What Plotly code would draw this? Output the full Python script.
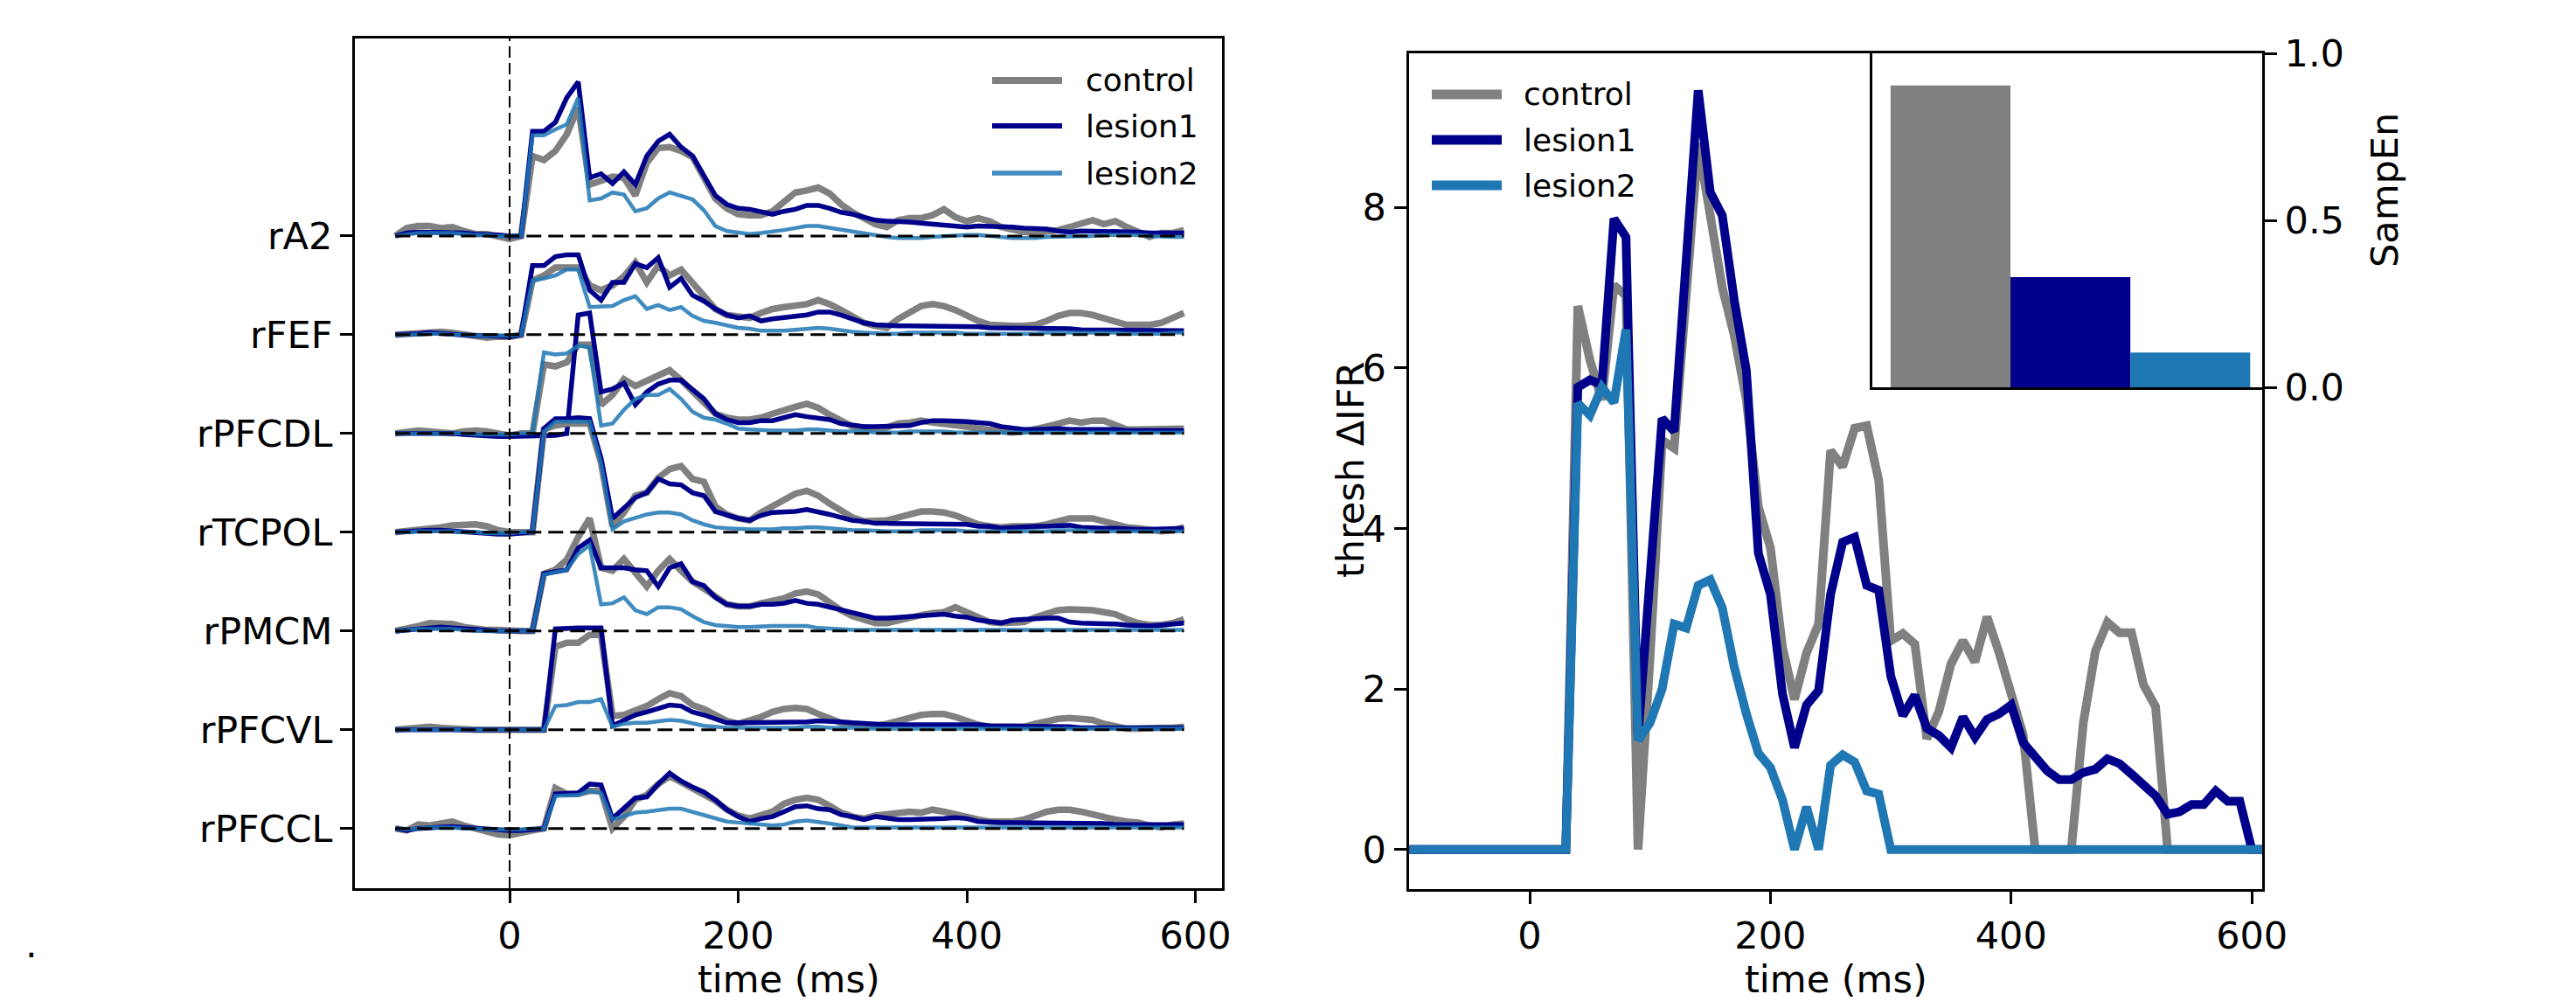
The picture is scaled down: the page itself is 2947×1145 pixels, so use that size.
import plotly.graph_objects as go

# ---------------- data ----------------
time_left = list(range(-100, 600, 10))      # 70 samples
time_right = list(range(-100, 620, 10))     # 72 samples

channels = ["rA2", "rFEF", "rPFCDL", "rTCPOL", "rPMCM", "rPFCVL", "rPFCCL"]
channel_offsets = [6, 5, 4, 3, 2, 1, 0]

rA2_control = [0.0, 0.08, 0.1, 0.1, 0.08, 0.09, 0.05, 0.02, 0.02, 0.0, -0.03, 0.0,
               0.81, 0.77, 0.86, 1.03, 1.3, 0.52, 0.56, 0.6, 0.59, 0.41,
               0.74, 0.89, 0.9, 0.86, 0.8, 0.59, 0.38, 0.28, 0.22, 0.21,
               0.21, 0.25, 0.35, 0.44, 0.46, 0.49, 0.43, 0.32, 0.24, 0.18,
               0.12, 0.09, 0.16, 0.18, 0.18, 0.21, 0.27, 0.19, 0.15, 0.18,
               0.15, 0.09, 0.06, 0.04, 0.03, 0.04, 0.06, 0.09, 0.12, 0.16,
               0.12, 0.15, 0.09, 0.04, -0.01, 0.03, 0.03, 0.06]
rA2_lesion1 = [0.0, 0.03, 0.04, 0.04, 0.04, 0.04, 0.03, 0.02, 0.02, 0.01, 0.0, 0.0,
               1.06, 1.06, 1.15, 1.4, 1.56, 0.59, 0.63, 0.53, 0.65, 0.52,
               0.81, 0.96, 1.03, 0.9, 0.81, 0.62, 0.41, 0.32, 0.28, 0.27,
               0.24, 0.22, 0.25, 0.27, 0.31, 0.31, 0.28, 0.24, 0.22, 0.19,
               0.16, 0.15, 0.15, 0.14, 0.13, 0.12, 0.12, 0.1, 0.09, 0.1,
               0.1, 0.09, 0.09, 0.08, 0.08, 0.07, 0.05, 0.04, 0.05, 0.05,
               0.05, 0.05, 0.05, 0.04, 0.03, 0.03, 0.03, 0.03]
rA2_lesion2 = [0.0, 0.02, 0.03, 0.03, 0.03, 0.03, 0.02, 0.01, 0.01, 0.0, 0.0, 0.0,
               1.02, 1.02, 1.08, 1.13, 1.4, 0.36, 0.38, 0.44, 0.42, 0.25,
               0.28, 0.38, 0.44, 0.41, 0.37, 0.26, 0.1, 0.05, 0.03, 0.02,
               0.03, 0.04, 0.06, 0.08, 0.1, 0.1, 0.08, 0.07, 0.04, 0.02,
               0.0, -0.01, -0.02, -0.02, -0.02, -0.01, 0.0, 0.01, 0.01, 0.01,
               0.0, -0.01, -0.02, -0.02, -0.02, -0.01, -0.01, 0.0, 0.0, 0.0,
               0.01, 0.01, 0.01, 0.01, 0.0, -0.01, -0.01, -0.01]

rFEF_control = [0.0, 0.01, 0.02, 0.03, 0.03, 0.02, 0.0, -0.02, -0.03, -0.02, -0.02, 0.0,
                0.55, 0.6, 0.68, 0.68, 0.68, 0.5, 0.45, 0.5, 0.59, 0.73,
                0.53, 0.7, 0.6, 0.66, 0.53, 0.38, 0.26, 0.2, 0.19, 0.17,
                0.22, 0.26, 0.28, 0.29, 0.31, 0.35, 0.31, 0.25, 0.19, 0.12,
                0.09, 0.07, 0.16, 0.22, 0.29, 0.31, 0.29, 0.25, 0.19, 0.14,
                0.1, 0.09, 0.09, 0.09, 0.1, 0.14, 0.19, 0.22, 0.22, 0.2,
                0.17, 0.13, 0.1, 0.1, 0.1, 0.12, 0.17, 0.22]
rFEF_lesion1 = [0.0, 0.0, 0.01, 0.02, 0.01, 0.0, 0.0, -0.01, -0.01, -0.02, -0.02, 0.0,
                0.7, 0.7, 0.79, 0.81, 0.81, 0.45, 0.35, 0.53, 0.53, 0.72,
                0.68, 0.78, 0.48, 0.57, 0.4, 0.34, 0.26, 0.2, 0.17, 0.19,
                0.14, 0.16, 0.17, 0.19, 0.2, 0.23, 0.23, 0.2, 0.16, 0.12,
                0.1, 0.09, 0.09, 0.09, 0.09, 0.09, 0.08, 0.08, 0.08, 0.08,
                0.07, 0.07, 0.07, 0.07, 0.07, 0.06, 0.06, 0.06, 0.05, 0.05,
                0.05, 0.05, 0.05, 0.05, 0.04, 0.04, 0.04, 0.04]
rFEF_lesion2 = [0.0, 0.0, 0.0, 0.01, 0.01, 0.0, 0.0, -0.01, -0.01, -0.01, -0.01, 0.0,
                0.55, 0.57, 0.6, 0.66, 0.66, 0.28, 0.28, 0.29, 0.35, 0.39,
                0.26, 0.3, 0.25, 0.28, 0.19, 0.14, 0.12, 0.09, 0.07, 0.06,
                0.04, 0.04, 0.04, 0.05, 0.06, 0.07, 0.06, 0.04, 0.03, 0.02,
                0.01, 0.01, 0.01, 0.02, 0.02, 0.02, 0.02, 0.02, 0.01, 0.01,
                0.01, 0.01, 0.01, 0.01, 0.01, 0.02, 0.02, 0.02, 0.02, 0.02,
                0.02, 0.02, 0.01, 0.01, 0.01, 0.01, 0.02, 0.02]

rPFCDL_control = [0.0, 0.01, 0.03, 0.02, 0.01, 0.0, 0.02, 0.03, 0.02, 0.0, -0.02, 0.0,
                  0.0, 0.7, 0.68, 0.72, 0.9, 0.9, 0.29, 0.39, 0.55, 0.48,
                  0.53, 0.58, 0.64, 0.54, 0.42, 0.32, 0.2, 0.16, 0.14, 0.14,
                  0.16, 0.2, 0.24, 0.27, 0.3, 0.26, 0.19, 0.13, 0.07, 0.06,
                  0.05, 0.06, 0.1, 0.11, 0.13, 0.11, 0.1, 0.08, 0.07, 0.05,
                  0.04, 0.02, 0.01, 0.02, 0.04, 0.07, 0.1, 0.13, 0.11, 0.13,
                  0.13, 0.08, 0.04, 0.04, 0.04, 0.04, 0.04, 0.05]
rPFCDL_lesion1 = [0.0, 0.0, 0.01, 0.01, 0.0, 0.0, -0.01, -0.02, -0.02, -0.03, -0.03, -0.03,
                  -0.03, -0.02, -0.02, 0.0, 1.2, 1.22, 0.42, 0.45, 0.51, 0.29,
                  0.42, 0.5, 0.54, 0.54, 0.45, 0.35, 0.2, 0.14, 0.11, 0.11,
                  0.13, 0.13, 0.16, 0.19, 0.17, 0.16, 0.14, 0.1, 0.08, 0.07,
                  0.07, 0.07, 0.07, 0.08, 0.11, 0.13, 0.13, 0.13, 0.12, 0.11,
                  0.1, 0.07, 0.05, 0.04, 0.04, 0.05, 0.05, 0.04, 0.04, 0.05,
                  0.05, 0.04, 0.03, 0.03, 0.03, 0.03, 0.03, 0.03]
rPFCDL_lesion2 = [0.0, 0.0, 0.0, 0.0, 0.0, 0.0, 0.0, -0.01, -0.01, -0.01, -0.01, 0.0,
                  0.0, 0.82, 0.8, 0.81, 0.89, 0.87, 0.08, 0.1, 0.24, 0.35,
                  0.39, 0.39, 0.45, 0.35, 0.22, 0.16, 0.14, 0.1, 0.05, 0.04,
                  0.03, 0.03, 0.03, 0.03, 0.04, 0.04, 0.03, 0.02, 0.02, 0.02,
                  0.01, 0.01, 0.01, 0.02, 0.02, 0.02, 0.02, 0.01, 0.01, 0.01,
                  0.01, 0.01, 0.01, 0.01, 0.01, 0.01, 0.01, 0.01, 0.01, 0.01,
                  0.01, 0.01, 0.01, 0.01, 0.01, 0.01, 0.01, 0.01]

rTCPOL_control = [0.0, 0.01, 0.02, 0.03, 0.05, 0.07, 0.08, 0.08, 0.06, 0.02, 0.0, 0.0,
                  0.0, 1.04, 1.08, 1.1, 1.1, 1.1, 0.7, 0.06, 0.2, 0.37,
                  0.4, 0.55, 0.64, 0.67, 0.54, 0.51, 0.26, 0.18, 0.14, 0.12,
                  0.2, 0.26, 0.33, 0.39, 0.42, 0.37, 0.29, 0.21, 0.15, 0.11,
                  0.11, 0.12, 0.15, 0.18, 0.21, 0.21, 0.2, 0.17, 0.12, 0.08,
                  0.06, 0.05, 0.06, 0.06, 0.06, 0.08, 0.11, 0.14, 0.14, 0.14,
                  0.11, 0.08, 0.05, 0.04, 0.02, 0.01, 0.02, 0.05]
rTCPOL_lesion1 = [0.0, 0.01, 0.02, 0.02, 0.02, 0.01, 0.0, -0.01, -0.02, -0.02, -0.02, -0.01,
                  0.0, 1.05, 1.15, 1.15, 1.16, 1.15, 0.75, 0.14, 0.24, 0.35,
                  0.4, 0.54, 0.49, 0.48, 0.4, 0.37, 0.21, 0.17, 0.14, 0.12,
                  0.17, 0.2, 0.2, 0.21, 0.23, 0.21, 0.18, 0.15, 0.12, 0.11,
                  0.09, 0.09, 0.09, 0.09, 0.08, 0.09, 0.09, 0.08, 0.08, 0.06,
                  0.06, 0.04, 0.05, 0.06, 0.06, 0.06, 0.07, 0.07, 0.05, 0.04,
                  0.04, 0.04, 0.03, 0.03, 0.03, 0.03, 0.04, 0.04]
rTCPOL_lesion2 = [0.0, 0.0, 0.01, 0.01, 0.01, 0.01, 0.0, 0.0, -0.01, -0.01, -0.01, 0.0,
                  0.0, 1.02, 1.12, 1.12, 1.12, 1.12, 0.7, 0.03, 0.11, 0.15,
                  0.18, 0.2, 0.2, 0.18, 0.12, 0.08, 0.05, 0.04, 0.03, 0.03,
                  0.03, 0.03, 0.04, 0.04, 0.05, 0.05, 0.04, 0.03, 0.02, 0.02,
                  0.01, 0.01, 0.01, 0.01, 0.02, 0.02, 0.02, 0.02, 0.01, 0.01,
                  0.01, 0.01, 0.01, 0.01, 0.01, 0.01, 0.02, 0.02, 0.02, 0.01,
                  0.01, 0.01, 0.01, 0.01, 0.01, 0.01, 0.01, 0.01]

rPMCM_control = [0.0, 0.02, 0.05, 0.08, 0.08, 0.07, 0.04, 0.02, 0.01, 0.01, 0.0, 0.0,
                 0.0, 0.58, 0.62, 0.72, 0.95, 1.14, 0.64, 0.61, 0.73, 0.59,
                 0.45, 0.61, 0.73, 0.61, 0.5, 0.43, 0.34, 0.27, 0.25, 0.25,
                 0.28, 0.31, 0.33, 0.38, 0.4, 0.37, 0.28, 0.21, 0.15, 0.11,
                 0.08, 0.08, 0.11, 0.14, 0.16, 0.18, 0.19, 0.24, 0.19, 0.13,
                 0.09, 0.08, 0.08, 0.09, 0.14, 0.18, 0.21, 0.22, 0.22, 0.21,
                 0.19, 0.17, 0.12, 0.08, 0.06, 0.06, 0.08, 0.12]
rPMCM_lesion1 = [0.0, 0.01, 0.03, 0.04, 0.04, 0.03, 0.02, 0.01, 0.0, 0.0, 0.0, 0.0,
                 0.0, 0.58, 0.6, 0.62, 0.84, 0.92, 0.64, 0.64, 0.64, 0.62,
                 0.61, 0.45, 0.64, 0.68, 0.5, 0.46, 0.34, 0.27, 0.25, 0.25,
                 0.27, 0.27, 0.28, 0.31, 0.28, 0.27, 0.24, 0.21, 0.18, 0.15,
                 0.13, 0.13, 0.14, 0.15, 0.16, 0.16, 0.17, 0.15, 0.14, 0.11,
                 0.09, 0.08, 0.11, 0.12, 0.12, 0.13, 0.13, 0.09, 0.08, 0.08,
                 0.07, 0.07, 0.06, 0.05, 0.05, 0.06, 0.07, 0.08]
rPMCM_lesion2 = [0.0, 0.01, 0.02, 0.02, 0.02, 0.02, 0.01, 0.0, 0.0, 0.0, 0.0, 0.0,
                 0.0, 0.57, 0.6, 0.62, 0.78, 0.87, 0.27, 0.28, 0.34, 0.21,
                 0.17, 0.24, 0.24, 0.22, 0.15, 0.09, 0.06, 0.05, 0.04, 0.04,
                 0.05, 0.05, 0.05, 0.05, 0.05, 0.03, 0.02, 0.02, 0.01, 0.01,
                 0.01, 0.01, 0.01, 0.01, 0.01, 0.01, 0.01, 0.01, 0.01, 0.01,
                 0.01, 0.01, 0.01, 0.01, 0.01, 0.01, 0.01, 0.01, 0.01, 0.01,
                 0.01, 0.01, 0.01, 0.01, 0.01, 0.01, 0.01, 0.01]

rPFCVL_control = [0.0, 0.01, 0.02, 0.03, 0.02, 0.01, 0.0, 0.0, 0.0, 0.0, 0.0, 0.0,
                  0.0, 0.0, 0.84, 0.88, 0.88, 0.96, 0.96, 0.14, 0.15, 0.19,
                  0.24, 0.31, 0.37, 0.34, 0.25, 0.21, 0.15, 0.09, 0.06, 0.09,
                  0.13, 0.18, 0.21, 0.22, 0.21, 0.16, 0.12, 0.07, 0.06, 0.05,
                  0.04, 0.06, 0.09, 0.12, 0.15, 0.16, 0.16, 0.13, 0.09, 0.05,
                  0.03, 0.03, 0.02, 0.03, 0.06, 0.09, 0.11, 0.12, 0.11, 0.1,
                  0.06, 0.03, 0.01, 0.01, 0.02, 0.02, 0.02, 0.03]
rPFCVL_lesion1 = [0.0, 0.0, 0.01, 0.01, 0.01, 0.0, 0.0, 0.0, 0.0, 0.0, 0.0, 0.0,
                  0.0, 0.0, 1.02, 1.03, 1.03, 1.03, 1.03, 0.04, 0.09, 0.15,
                  0.18, 0.21, 0.25, 0.24, 0.18, 0.15, 0.11, 0.07, 0.07, 0.07,
                  0.07, 0.07, 0.07, 0.07, 0.08, 0.09, 0.09, 0.08, 0.07, 0.06,
                  0.05, 0.05, 0.05, 0.05, 0.05, 0.06, 0.06, 0.06, 0.06, 0.05,
                  0.04, 0.04, 0.03, 0.03, 0.03, 0.03, 0.03, 0.03, 0.02, 0.02,
                  0.02, 0.02, 0.02, 0.02, 0.02, 0.02, 0.02, 0.02]
rPFCVL_lesion2 = [0.0, 0.0, 0.0, 0.0, 0.0, 0.0, 0.0, 0.0, 0.0, 0.0, 0.0, 0.0,
                  0.0, 0.0, 0.24, 0.25, 0.28, 0.28, 0.31, 0.03, 0.06, 0.07,
                  0.07, 0.09, 0.1, 0.09, 0.06, 0.04, 0.03, 0.02, 0.02, 0.02,
                  0.02, 0.02, 0.02, 0.02, 0.03, 0.03, 0.02, 0.02, 0.02, 0.01,
                  0.01, 0.01, 0.01, 0.01, 0.01, 0.01, 0.01, 0.01, 0.01, 0.01,
                  0.01, 0.01, 0.01, 0.01, 0.01, 0.01, 0.01, 0.01, 0.01, 0.01,
                  0.01, 0.01, 0.01, 0.01, 0.01, 0.01, 0.01, 0.01]

rPFCCL_control = [0.0, -0.02, 0.04, 0.03, 0.05, 0.07, 0.03, 0.0, -0.03, -0.06, -0.07, -0.04,
                  -0.02, 0.0, 0.41, 0.35, 0.35, 0.38, 0.38, 0.0, 0.12, 0.29,
                  0.34, 0.45, 0.53, 0.47, 0.41, 0.35, 0.28, 0.19, 0.13, 0.1,
                  0.14, 0.17, 0.25, 0.29, 0.31, 0.29, 0.23, 0.16, 0.12, 0.1,
                  0.13, 0.14, 0.16, 0.17, 0.16, 0.19, 0.17, 0.14, 0.12, 0.09,
                  0.07, 0.07, 0.07, 0.09, 0.13, 0.17, 0.19, 0.19, 0.17, 0.14,
                  0.12, 0.09, 0.07, 0.06, 0.03, 0.01, 0.04, 0.05]
rPFCCL_lesion1 = [0.0, -0.02, 0.0, 0.01, 0.01, 0.02, 0.01, 0.0, -0.01, -0.02, -0.02, -0.02,
                  -0.01, 0.0, 0.35, 0.36, 0.36, 0.45, 0.44, 0.1, 0.2, 0.31,
                  0.32, 0.45, 0.56, 0.48, 0.42, 0.37, 0.29, 0.19, 0.12, 0.07,
                  0.1, 0.12, 0.17, 0.22, 0.23, 0.2, 0.19, 0.14, 0.12, 0.09,
                  0.12, 0.1, 0.09, 0.09, 0.09, 0.09, 0.1, 0.11, 0.1, 0.07,
                  0.06, 0.06, 0.06, 0.06, 0.06, 0.06, 0.06, 0.06, 0.06, 0.05,
                  0.05, 0.04, 0.04, 0.04, 0.04, 0.04, 0.04, 0.04]
rPFCCL_lesion2 = [0.0, -0.01, 0.0, 0.01, 0.01, 0.01, 0.0, 0.0, -0.01, -0.01, -0.01, -0.01,
                  0.0, 0.0, 0.33, 0.33, 0.34, 0.38, 0.36, 0.09, 0.13, 0.16,
                  0.17, 0.19, 0.2, 0.2, 0.17, 0.14, 0.1, 0.07, 0.06, 0.05,
                  0.04, 0.03, 0.04, 0.07, 0.08, 0.07, 0.05, 0.03, 0.01, 0.01,
                  0.01, 0.01, 0.01, 0.01, 0.01, 0.01, 0.01, 0.01, 0.01, 0.01,
                  0.01, 0.01, 0.01, 0.01, 0.01, 0.01, 0.01, 0.01, 0.01, 0.01,
                  0.01, 0.01, 0.01, 0.01, 0.01, 0.01, 0.01, 0.01]

thresh_control = [0, 0, 0, 0, 0, 0, 0, 0, 0, 0, 0, 0, 0, 0,
                  6.77, 6.1, 5.6, 7.03, 6.9, 0.0, 2.4, 5.1, 5.0, 7.0,
                  8.8, 7.9, 7.0, 6.4, 5.6, 4.27, 3.76, 2.52, 1.87, 2.45,
                  2.81, 4.97, 4.77, 5.25, 5.28, 4.6, 2.6, 2.69, 2.56, 1.38,
                  1.72, 2.31, 2.6, 2.34, 2.9, 2.45, 1.94, 1.43, 0.0, 0.0,
                  0.0, 0.0, 1.58, 2.47, 2.83, 2.7, 2.7, 2.05, 1.78, 0.0,
                  0.0, 0.0, 0.0, 0.0, 0.0, 0.0, 0.0, 0.0]
thresh_lesion1 = [0, 0, 0, 0, 0, 0, 0, 0, 0, 0, 0, 0, 0, 0,
                  5.76, 5.85, 5.79, 7.86, 7.63, 1.4, 3.4, 5.37, 5.21, 7.2,
                  9.46, 8.19, 7.9, 6.84, 5.97, 3.69, 3.18, 1.94, 1.27, 1.8,
                  1.98, 3.18, 3.83, 3.89, 3.29, 3.23, 2.16, 1.67, 1.92, 1.51,
                  1.42, 1.27, 1.65, 1.40, 1.62, 1.69, 1.80, 1.33, 1.14, 0.98,
                  0.87, 0.87, 0.96, 1.0, 1.13, 1.07, 0.94, 0.82, 0.67, 0.44,
                  0.47, 0.56, 0.56, 0.73, 0.6, 0.6, 0.0, 0.0]
thresh_lesion2 = [0, 0, 0, 0, 0, 0, 0, 0, 0, 0, 0, 0, 0, 0,
                  5.56, 5.41, 5.76, 5.57, 6.48, 1.36, 1.58, 2.0, 2.81, 2.76,
                  3.29, 3.36, 3.01, 2.27, 1.69, 1.2, 1.02, 0.62, 0.0, 0.53,
                  0.0, 1.05, 1.18, 1.09, 0.73, 0.69, 0.0, 0.0, 0.0, 0.0,
                  0.0, 0.0, 0.0, 0.0, 0.0, 0.0, 0.0, 0.0, 0.0, 0.0,
                  0.0, 0.0, 0.0, 0.0, 0.0, 0.0, 0.0, 0.0, 0.0, 0.0,
                  0.0, 0.0, 0.0, 0.0, 0.0, 0.0, 0.0, 0.0]

conditions = ["control", "lesion1", "lesion2"]
sampen = [0.904, 0.330, 0.104]

left_x_ticks = [0, 200, 400, 600]
right_x_ticks = [0, 200, 400, 600]
right_y_ticks = [0, 2, 4, 6, 8]
inset_y_ticks = [0.0, 0.5, 1.0]
inset_y_ticktext = ["0.0", "0.5", "1.0"]

channel_data = {
    "rA2": [rA2_control, rA2_lesion1, rA2_lesion2],
    "rFEF": [rFEF_control, rFEF_lesion1, rFEF_lesion2],
    "rPFCDL": [rPFCDL_control, rPFCDL_lesion1, rPFCDL_lesion2],
    "rTCPOL": [rTCPOL_control, rTCPOL_lesion1, rTCPOL_lesion2],
    "rPMCM": [rPMCM_control, rPMCM_lesion1, rPMCM_lesion2],
    "rPFCVL": [rPFCVL_control, rPFCVL_lesion1, rPFCVL_lesion2],
    "rPFCCL": [rPFCCL_control, rPFCCL_lesion1, rPFCCL_lesion2],
}
thresh_data = [thresh_control, thresh_lesion1, thresh_lesion2]

# ---------------- styling ----------------
W, H = 2947, 1145
FONT = "DejaVu Sans"
TICK_FS = 43
LEG_FS = 36
GRAY = "#808080"
NAVY = "#00008b"
BLUE = "#1f77b4"
BLUE_LEFT = "rgba(31,119,180,0.85)"
left_colors = [GRAY, NAVY, BLUE_LEFT]
left_widths = [7.5, 5.5, 4.5]
right_colors = [GRAY, NAVY, BLUE]
right_width = 10


def px_x(px):
    return px / W


def px_y(py):
    return 1 - py / H


fig = go.Figure()

# ---- left panel: stacked channel traces ----
for name, off in zip(channels, channel_offsets):
    series = channel_data[name]
    for cond, vals, col, lw in zip(conditions, series, left_colors, left_widths):
        fig.add_trace(go.Scatter(
            x=time_left, y=[v + off for v in vals], mode="lines",
            line=dict(color=col, width=lw), name=cond, showlegend=False,
            xaxis="x", yaxis="y", hoverinfo="skip"))
for name, off in zip(channels, channel_offsets):
    fig.add_trace(go.Scatter(
        x=[time_left[0], time_left[-1]], y=[off, off], mode="lines",
        line=dict(color="black", width=3, dash="17px,8px"),
        showlegend=False, xaxis="x", yaxis="y", hoverinfo="skip"))

# ---- right panel ----
for cond, vals, col in zip(conditions, thresh_data, right_colors):
    fig.add_trace(go.Scatter(
        x=time_right, y=vals, mode="lines",
        line=dict(color=col, width=right_width), name=cond, showlegend=False,
        xaxis="x2", yaxis="y2", hoverinfo="skip"))

# ---- inset bar ----
fig.add_trace(go.Bar(
    x=[0, 1, 2], y=sampen, width=1.0, marker=dict(color=right_colors, line=dict(width=0)),
    showlegend=False, xaxis="x3", yaxis="y3", hoverinfo="skip"))

axis_common = dict(showline=True, linecolor="black", linewidth=3, mirror=True,
                   ticks="outside", ticklen=14, tickwidth=3, tickcolor="black",
                   showgrid=False, zeroline=False, automargin=False,
                   tickfont=dict(family=FONT, size=TICK_FS, color="black"))

fig.update_layout(
    width=W, height=H, autosize=False,
    margin=dict(l=0, r=0, t=0, b=0, pad=0, autoexpand=False),
    paper_bgcolor="white", plot_bgcolor="white",
    showlegend=False,
    font=dict(family=FONT, color="black"),
    xaxis=dict(domain=[px_x(406), px_x(1398)], range=[-135.4, 623.3],
               tickvals=left_x_ticks, anchor="y", **axis_common),
    yaxis=dict(domain=[px_y(1016), px_y(44)], range=[-0.605, 8.0],
               tickvals=channel_offsets, ticktext=channels, anchor="x", **axis_common),
    xaxis2=dict(domain=[px_x(1611.5), px_x(2588)], range=[-100.6, 608.6],
                tickvals=right_x_ticks, anchor="y2", **axis_common),
    yaxis2=dict(domain=[px_y(1016.5), px_y(61)], range=[-0.488, 9.92],
                tickvals=right_y_ticks, anchor="x2", **axis_common),
    xaxis3=dict(domain=[px_x(2142.3), px_x(2588)], range=[-0.65, 2.6],
                anchor="y3", showline=True, linecolor="black", linewidth=3, mirror=True,
                ticks="", showticklabels=False, showgrid=False, zeroline=False,
                automargin=False),
    yaxis3=dict(domain=[px_y(443), px_y(61)], range=[0, 1], side="right",
                tickvals=inset_y_ticks, ticktext=inset_y_ticktext, anchor="x3",
                **axis_common),
)

# vertical dashed stimulus line (left panel)
fig.add_shape(type="line", xref="x", yref="y domain", x0=0, x1=0, y0=0, y1=1,
              line=dict(color="black", width=2, dash="13px,6px"))

# ---- axis titles ----
annos = [
    dict(text="time (ms)", x=px_x(902), y=px_y(1120), xanchor="center", yanchor="middle"),
    dict(text="time (ms)", x=px_x(2100), y=px_y(1120), xanchor="center", yanchor="middle"),
    dict(text="thresh ΔIFR", x=px_x(1545), y=px_y(538), xanchor="center", yanchor="middle",
         textangle=-90),
    dict(text="SampEn", x=px_x(2728), y=px_y(218), xanchor="center", yanchor="middle",
         textangle=-90),
    dict(text=".", x=px_x(36), y=px_y(1080), xanchor="center", yanchor="middle"),
]
for a in annos:
    fig.add_annotation(xref="paper", yref="paper", showarrow=False,
                       font=dict(family=FONT, size=TICK_FS, color="black"), **a)

# ---- legends (drawn manually to match sample length) ----
def add_legend(x0, x1, xt, ys, colors, widths):
    for cond, y, col, lw in zip(conditions, ys, colors, widths):
        fig.add_shape(type="line", xref="paper", yref="paper",
                      x0=px_x(x0), x1=px_x(x1), y0=px_y(y), y1=px_y(y),
                      line=dict(color=col, width=lw))
        fig.add_annotation(xref="paper", yref="paper", showarrow=False,
                           x=px_x(xt), y=px_y(y), xanchor="left", yanchor="middle",
                           text=cond, font=dict(family=FONT, size=LEG_FS, color="black"))

add_legend(1135, 1215, 1240, [92, 144, 198], left_colors, [8, 6, 5.5])
add_legend(1638, 1718, 1741, [108, 160, 212], right_colors, [11, 11, 11])

fig.write_html("out.html",
               config={"displayModeBar": False},
               post_script="document.body.style.margin='0';document.body.style.overflow='hidden';")
